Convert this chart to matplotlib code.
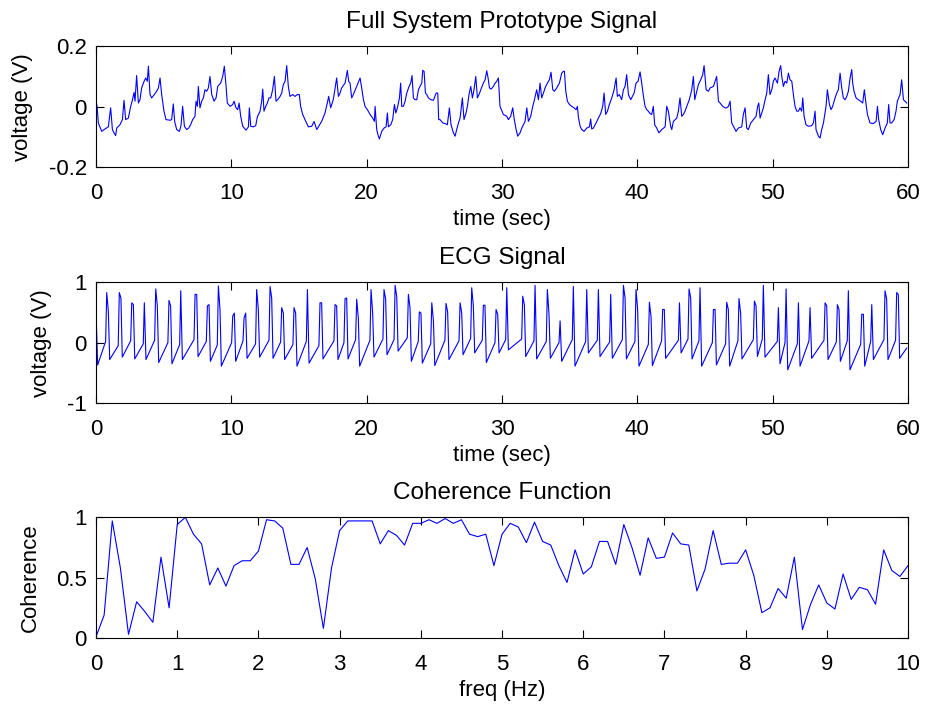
import numpy as np
import matplotlib
matplotlib.use('Agg')
import matplotlib.pyplot as plt

# --- Full system prototype signal (time s, voltage V) ---
proto_a = [
    (0.00, 0.025), (0.10, -0.010), (0.17, -0.054), (0.42, -0.082), (0.66, -0.074),
    (0.91, -0.067), (1.08, -0.004), (1.21, -0.076), (1.33, -0.087), (1.45, -0.096),
    (1.53, -0.071), (1.77, -0.060), (1.95, -0.043), (2.07, 0.021), (2.19, -0.043),
    (2.39, -0.038), (2.56, 0.001), (2.68, 0.020), (2.81, 0.047), (2.88, 0.018),
    (3.00, 0.103), (3.13, 0.012), (3.25, 0.023), (3.37, 0.062), (3.55, 0.084),
    (3.67, 0.095), (3.79, 0.084), (3.87, 0.134), (3.99, 0.040), (4.11, 0.029),
    (4.31, 0.040), (4.48, 0.051), (4.61, 0.062), (4.73, 0.095), (4.85, 0.040),
    (5.02, -0.015), (5.17, -0.043), (5.47, -0.045), (5.59, -0.043), (5.71, 0.009),
    (5.81, -0.049), (5.96, -0.076), (6.16, -0.082), (6.28, -0.063), (6.40, 0.001),
    (6.53, -0.065), (6.70, -0.076), (6.85, -0.071), (6.99, -0.060), (7.14, -0.043),
    (7.31, -0.032), (7.39, 0.018), (7.49, 0.001), (7.56, 0.067), (7.68, -0.004),
    (7.81, 0.018), (7.93, 0.029), (8.05, 0.056), (8.18, 0.051), (8.30, 0.062),
    (8.42, 0.100), (8.55, 0.040), (8.72, 0.018), (8.87, 0.029), (8.99, 0.067),
    (9.21, 0.078), (9.36, 0.100), (9.48, 0.134), (9.61, 0.067), (9.70, 0.012),
    (9.90, 0.001), (10.10, 0.007), (10.20, 0.018), (10.34, -0.004), (10.47, -0.010),
    (10.57, 0.012), (10.69, -0.032), (10.84, -0.065), (11.08, -0.078), (11.26, -0.067),
    (11.33, -0.004), (11.43, -0.065), (11.63, -0.067), (11.80, -0.063), (11.92, -0.034),
    (12.12, -0.015), (12.24, 0.018), (12.32, 0.058), (12.41, -0.015), (12.54, 0.001),
    (12.66, 0.012), (12.78, 0.029), (12.91, 0.029), (13.05, 0.056), (13.18, 0.100),
    (13.30, 0.018), (13.42, 0.023), (13.60, 0.034), (13.72, 0.045), (13.84, 0.073),
    (13.97, 0.084), (14.09, 0.136), (14.21, 0.067), (14.33, 0.034), (14.53, 0.040),
    (14.70, 0.034), (14.88, 0.040), (15.02, 0.040), (15.12, 0.001), (15.27, -0.026),
    (15.44, -0.043), (15.69, -0.067), (15.94, -0.065), (16.11, -0.049), (16.31, -0.076),
    (16.43, -0.067), (16.67, -0.049), (16.92, -0.021), (17.09, 0.012), (17.19, 0.034),
    (17.34, -0.004), (17.54, 0.025), (17.78, 0.095), (17.91, 0.034), (18.03, 0.045),
    (18.15, 0.062), (18.40, 0.078), (18.57, 0.120), (18.67, 0.084), (18.77, 0.078),
    (18.89, 0.029), (19.01, 0.040), (19.26, 0.067),
]
proto_b = [
    (19.51, 0.095), (19.63, 0.062), (19.76, 0.023), (19.88, 0.001), (20.05, -0.010),
    (20.25, -0.026), (20.45, -0.038), (20.57, -0.049), (20.62, 0.001), (20.74, -0.076),
    (20.86, -0.098), (20.94, -0.107), (21.11, -0.082), (21.28, -0.071), (21.43, -0.067),
    (21.53, -0.021), (21.60, -0.067), (21.78, -0.060), (21.92, -0.043), (22.05, 0.007),
    (22.15, -0.021), (22.27, -0.004), (22.42, 0.029), (22.51, 0.078), (22.59, 0.001),
    (22.71, 0.001), (22.84, 0.018), (22.96, 0.045), (23.13, 0.067), (23.25, 0.078),
    (23.35, 0.103), (23.45, 0.029), (23.57, 0.023), (23.70, 0.023), (23.82, 0.056),
    (23.94, 0.067), (24.07, 0.078), (24.14, 0.120), (24.24, 0.117), (24.34, 0.045),
    (24.44, 0.040), (24.56, 0.029), (24.73, 0.023), (24.93, 0.021), (25.13, 0.045),
    (25.25, 0.045), (25.32, -0.043), (25.42, -0.043), (25.62, -0.054), (25.79, -0.056),
    (25.96, -0.060), (26.11, -0.004), (26.23, -0.060), (26.41, -0.087), (26.53, -0.098),
    (26.65, -0.076), (26.78, -0.054), (26.90, -0.038), (27.07, 0.029), (27.19, -0.043),
    (27.34, -0.021), (27.44, 0.001), (27.56, 0.040), (27.69, 0.067), (27.81, 0.029),
    (27.93, 0.056), (28.06, 0.100), (28.18, 0.029), (28.30, 0.040), (28.43, 0.056),
    (28.62, 0.078), (28.75, 0.089), (28.87, 0.119), (28.97, 0.095), (29.07, 0.062),
    (29.19, 0.058), (29.36, 0.067), (29.49, 0.078), (29.61, 0.084), (29.73, 0.095),
    (29.85, 0.001), (30.10, -0.026), (30.35, -0.032), (30.47, -0.043), (30.64, -0.032),
    (30.79, -0.004), (30.89, -0.038), (31.04, -0.076), (31.16, -0.098), (31.33, -0.087),
    (31.46, -0.071), (31.58, -0.060), (31.70, -0.049), (31.83, -0.004), (31.95, -0.049),
    (32.12, -0.032), (32.27, 0.001), (32.37, 0.018), (32.56, 0.056), (32.69, 0.023),
    (32.81, 0.078), (32.93, 0.029), (33.06, 0.045), (33.18, 0.062), (33.35, 0.078),
    (33.50, 0.089), (33.62, 0.114), (33.75, 0.056), (33.87, 0.051), (34.04, 0.062),
    (34.24, 0.078), (34.41, 0.111), (34.53, 0.117), (34.61, 0.117), (34.71, 0.051),
    (34.83, 0.018), (34.98, 0.007), (35.15, 0.001), (35.32, -0.004), (35.47, -0.010),
    (35.57, 0.001), (35.64, -0.034), (35.77, -0.065), (35.89, -0.076), (36.06, -0.082),
    (36.26, -0.071), (36.46, -0.067), (36.55, -0.041), (36.63, -0.074), (36.75, -0.071),
    (36.95, -0.054), (37.12, -0.038), (37.29, -0.023), (37.44, 0.001), (37.54, 0.045),
    (37.66, -0.026), (37.79, -0.015), (37.93, 0.007), (38.11, 0.029), (38.28, 0.056),
    (38.43, 0.095), (38.52, 0.034), (38.67, 0.040), (38.84, 0.023), (38.97, 0.056),
    (39.09, 0.067), (39.21, 0.106), (39.34, 0.040), (39.51, 0.023),
]
proto_c = [
    (39.76, 0.045), (39.90, 0.078), (40.05, 0.084), (40.20, 0.115), (40.32, 0.078),
    (40.45, 0.034), (40.57, 0.001), (40.69, -0.010), (40.81, -0.015), (40.94, -0.023),
    (41.06, -0.026), (41.18, 0.001), (41.28, -0.060), (41.43, -0.071), (41.60, -0.087),
    (41.80, -0.076), (42.05, -0.067), (42.17, 0.001), (42.29, -0.015), (42.46, -0.065),
    (42.54, -0.076), (42.66, -0.049), (42.91, -0.038), (43.03, -0.015), (43.15, 0.029),
    (43.28, -0.032), (43.40, -0.026), (43.52, -0.015), (43.70, 0.007), (43.84, 0.023),
    (44.02, 0.056), (44.14, 0.100), (44.24, 0.023), (44.39, 0.051), (44.51, 0.073),
    (44.68, 0.089), (44.83, 0.106), (44.93, 0.136), (45.08, 0.056), (45.25, 0.051),
    (45.37, 0.062), (45.62, 0.067), (45.74, 0.084), (45.86, 0.100), (45.99, 0.018),
    (46.11, 0.012), (46.31, 0.001), (46.48, -0.004), (46.60, -0.004), (46.73, 0.001),
    (46.85, 0.018), (46.97, -0.054), (47.10, -0.065), (47.29, -0.082), (47.46, -0.071),
    (47.71, -0.067), (47.83, -0.026), (47.96, -0.004), (48.08, -0.071), (48.20, -0.076),
    (48.38, -0.054), (48.57, -0.043), (48.77, -0.032), (48.89, 0.001), (48.97, 0.012),
    (49.07, -0.038), (49.19, -0.021), (49.31, -0.004), (49.44, 0.023), (49.56, 0.045),
    (49.68, 0.106), (49.80, 0.040), (49.93, 0.056), (50.05, 0.084), (50.17, 0.095),
    (50.35, 0.078), (50.47, 0.117), (50.59, 0.136), (50.67, 0.100), (50.79, 0.067),
    (50.91, 0.084), (51.04, 0.078), (51.16, 0.111), (51.28, 0.089), (51.41, 0.084),
    (51.53, 0.040), (51.65, 0.001), (51.78, -0.015), (51.90, -0.015), (52.02, -0.004),
    (52.14, -0.015), (52.22, 0.029), (52.32, -0.032), (52.46, -0.060), (52.64, -0.065),
    (52.88, -0.063), (53.01, -0.054), (53.13, -0.015), (53.20, -0.076), (53.38, -0.098),
    (53.50, -0.104), (53.62, -0.076), (53.75, -0.054), (53.94, 0.001), (54.04, 0.056),
    (54.19, 0.007), (54.31, -0.010), (54.43, 0.001), (54.61, 0.029), (54.73, 0.045),
    (54.85, 0.056), (54.98, 0.111), (55.10, 0.062), (55.22, 0.029), (55.35, 0.023),
    (55.47, 0.034), (55.59, 0.051), (55.72, 0.095), (55.84, 0.123), (55.91, 0.078),
    (56.01, 0.051), (56.16, 0.029), (56.33, 0.023), (56.50, 0.018), (56.65, 0.012),
    (56.77, 0.056), (56.90, 0.007), (57.00, -0.026), (57.19, -0.054), (57.44, -0.056),
    (57.64, -0.049), (57.74, 0.001), (57.83, -0.043), (57.98, -0.076), (58.13, -0.093),
    (58.30, -0.071), (58.47, -0.054), (58.57, 0.007), (58.67, -0.054), (58.79, -0.054),
    (58.97, -0.043), (59.11, -0.015), (59.21, 0.018), (59.41, 0.040), (59.53, 0.089),
    (59.66, 0.023), (59.78, 0.018), (59.90, 0.012),
]

# --- ECG beats: R-peak time, R height, second spike height (nan = none),
#     trough after the spike, level just before the spike ---
nan = np.nan
ecg_peak_t = [0.00, 0.79, 1.72, 2.64, 3.57, 4.41, 5.39, 6.26, 7.32, 8.23,
              9.04, 10.10, 10.94, 11.87, 12.86, 13.72, 14.63, 15.62, 16.55, 17.66,
              18.40, 19.26, 20.32, 21.28, 22.10, 23.08, 23.89, 24.81, 25.86, 26.90,
              27.76, 28.62, 29.56, 30.35, 31.53, 32.44, 33.35, 34.29, 35.27, 36.26,
              37.12, 38.03, 38.97, 39.90, 40.89, 41.87, 43.11, 43.82, 44.63, 45.62,
              46.60, 47.51, 48.65, 49.31, 50.42, 50.99, 51.90, 52.76, 53.87, 54.78,
              55.59, 56.58, 57.32, 58.30, 59.16]
ecg_peak_v = [0.52, 0.83, 0.83, 0.66, 0.66, 0.89, 0.70, 0.86, 0.80, 0.61,
              0.94, 0.44, 0.41, 0.88, 0.93, 0.58, 0.58, 0.88, 0.66, 0.63,
              0.73, 0.72, 0.88, 0.88, 0.95, 0.80, 0.51, 0.66, 0.65, 0.66,
              0.91, 0.62, 0.55, 0.91, 0.77, 0.95, 0.88, 0.36, 0.93, 0.88,
              0.88, 0.80, 0.95, 0.88, 0.67, 0.55, 0.66, 0.89, 0.91, 0.55,
              0.67, 0.73, 0.69, 0.95, 0.58, 0.89, 0.66, 0.58, 0.66, 0.63,
              0.86, 0.47, 0.63, 0.86, 0.83]
ecg_second_v = [nan, 0.52, 0.74, 0.63, nan, 0.61, 0.61, nan, 0.80, 0.63,
                0.55, 0.49, 0.49, 0.56, 0.74, 0.49, 0.49, nan, 0.66, 0.61,
                0.74, 0.41, 0.49, 0.72, 0.76, 0.58, 0.49, 0.36, 0.51, 0.49,
                0.61, 0.62, 0.47, nan, 0.63, nan, 0.47, nan, nan, nan,
                nan, nan, 0.74, 0.55, 0.43, 0.55, nan, 0.74, nan, 0.55,
                0.55, 0.49, 0.61, nan, nan, nan, nan, nan, 0.61, 0.55,
                nan, 0.47, nan, 0.72, 0.80]
ecg_trough_v = [-0.37, -0.28, -0.24, -0.27, -0.28, -0.33, -0.35, -0.28, -0.23, -0.31,
                -0.39, -0.31, -0.26, -0.24, -0.26, -0.28, -0.39, -0.34, -0.27, -0.28,
                -0.27, -0.39, -0.24, -0.20, -0.14, -0.31, -0.34, -0.38, -0.28, -0.20,
                -0.17, -0.33, -0.17, -0.12, -0.23, -0.27, -0.26, -0.31, -0.39, -0.17,
                -0.23, -0.26, -0.27, -0.39, -0.38, -0.26, -0.17, -0.27, -0.39, -0.37,
                -0.39, -0.27, -0.23, -0.24, -0.35, -0.45, -0.39, -0.26, -0.28, -0.31,
                -0.45, -0.39, -0.28, -0.28, -0.26]
ecg_base_v = [0.30, 0.02, -0.05, 0.03, -0.02, 0.04, 0.00, -0.03, 0.05, 0.02,
              -0.04, 0.00, 0.03, -0.02, 0.04, 0.01, -0.03, 0.02, -0.05, 0.03,
              0.00, 0.05, 0.04, 0.06, 0.05, 0.08, 0.02, -0.02, 0.04, 0.03,
              0.07, 0.04, 0.00, 0.05, 0.06, 0.03, 0.02, 0.00, 0.05, 0.02,
              0.04, 0.01, 0.05, 0.02, -0.03, 0.03, 0.04, 0.06, 0.03, 0.00,
              -0.02, 0.03, 0.05, 0.06, 0.02, 0.00, -0.02, 0.03, 0.04, 0.01,
              0.03, -0.03, 0.02, 0.05, 0.04]
ecg_end = (59.90, -0.09)

# --- Coherence estimate, 0 to 10 Hz in 0.1 Hz bins ---
freq_step = 0.1
coherence = [0.01, 0.19, 0.97, 0.58, 0.03, 0.30, 0.22, 0.13, 0.67, 0.25,
             0.94, 1.00, 0.86, 0.78, 0.44, 0.58, 0.43, 0.60, 0.64, 0.64,
             0.72, 0.98, 0.97, 0.91, 0.61, 0.61, 0.75, 0.49, 0.08, 0.58,
             0.89, 0.97, 0.97, 0.97, 0.97, 0.78, 0.89, 0.85, 0.77, 0.95,
             0.95, 0.98, 0.95, 0.99, 0.95, 0.98, 0.86, 0.84, 0.86, 0.60,
             0.86, 0.95, 0.92, 0.79, 0.96, 0.80, 0.77, 0.60, 0.46, 0.73,
             0.53, 0.59, 0.80, 0.80, 0.61, 0.94, 0.75, 0.52, 0.83, 0.66,
             0.67, 0.87, 0.78, 0.77, 0.39, 0.57, 0.89, 0.61, 0.62, 0.62,
             0.73, 0.52, 0.21, 0.25, 0.41, 0.33, 0.67, 0.07, 0.28, 0.44,
             0.29, 0.24, 0.53, 0.32, 0.42, 0.40, 0.28, 0.73, 0.56, 0.51,
             0.60]

# build the traces
proto = np.array(proto_a + proto_b + proto_c)
proto_t, proto_v = proto[:, 0], proto[:, 1]

ecg_t, ecg_v = [], []
for tp, vp, v2, vtr, vb in zip(ecg_peak_t, ecg_peak_v, ecg_second_v,
                               ecg_trough_v, ecg_base_v):
    ecg_t += [tp - 0.08, tp]
    ecg_v += [vb, vp]
    if np.isnan(v2):
        ecg_t.append(tp + 0.12)
    else:
        ecg_t += [tp + 0.12, tp + 0.22]
        ecg_v.append(v2)
    ecg_v.append(vtr)
ecg_t.append(ecg_end[0])
ecg_v.append(ecg_end[1])

freq = np.arange(len(coherence)) * freq_step

# --- plotting, MATLAB look ---
plt.rcParams['font.family'] = ['Liberation Sans', 'DejaVu Sans']
plt.rcParams['axes.unicode_minus'] = False
FS = 16

fig = plt.figure(figsize=(9.26, 7.10), dpi=100)
left, width, height = 0.1037, 0.8769, 0.1700
ax1 = fig.add_axes([left, 0.7648, width, height])
ax2 = fig.add_axes([left, 0.4324, width, height])
ax3 = fig.add_axes([left, 0.1014, width, height])

blue = '#0000ff'
ax1.plot(proto_t, proto_v, color=blue, lw=0.8)
ax2.plot(ecg_t, ecg_v, color=blue, lw=0.8)
ax3.plot(freq, coherence, color=blue, lw=0.8)

ax1.set_xlim(0, 60)
ax1.set_ylim(-0.2, 0.2)
ax1.set_xticks(range(0, 61, 10))
ax1.set_yticks([-0.2, 0, 0.2])
ax1.set_yticklabels(['-0.2', '0', '0.2'])
ax1.set_title('Full System Prototype Signal', fontsize=17.5, pad=13)
ax1.set_xlabel('time (sec)', fontsize=FS, labelpad=3.5)
ax1.set_ylabel('voltage (V)', fontsize=FS, labelpad=11)

ax2.set_xlim(0, 60)
ax2.set_ylim(-1, 1)
ax2.set_xticks(range(0, 61, 10))
ax2.set_yticks([-1, 0, 1])
ax2.set_title('ECG Signal', fontsize=17.5, pad=13)
ax2.set_xlabel('time (sec)', fontsize=FS, labelpad=3.5)
ax2.set_ylabel('voltage (V)', fontsize=FS, labelpad=11)

ax3.set_xlim(0, 10)
ax3.set_ylim(0, 1)
ax3.set_xticks(range(0, 11))
ax3.set_yticks([0, 0.5, 1])
ax3.set_yticklabels(['0', '0.5', '1'])
ax3.set_title('Coherence Function', fontsize=17.5, pad=13)
ax3.set_xlabel('freq (Hz)', fontsize=FS, labelpad=3.5)
ax3.set_ylabel('Coherence', fontsize=FS, labelpad=11)

for ax in (ax1, ax2, ax3):
    for s in ax.spines.values():
        s.set_linewidth(0.8)
    ax.tick_params(direction='in', top=True, right=True, length=5.5,
                   width=0.8, labelsize=FS)
    ax.tick_params(axis='x', pad=11.5)
    ax.tick_params(axis='y', pad=6.5)

fig.savefig('out.png', dpi=100)
